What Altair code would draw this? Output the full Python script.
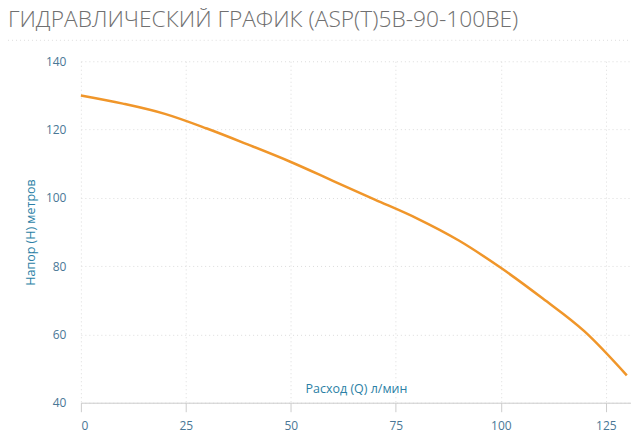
import altair as alt
import pandas as pd

flow = [0, 10, 20, 30, 40, 50, 60, 70, 80, 90, 100, 110, 120, 130]
head = [130, 127.6, 124.6, 120.3, 115.5, 110.5, 105, 99.5, 94, 87.5, 79.5, 70.5, 60.8, 48]

df = pd.DataFrame({"q": flow, "h": head})

W, H = 551, 342
label_color = "#4a7796"
title_color = "#2b7fa6"
grid_color = "#dcdcdc"

line = alt.Chart(df).mark_line(
    color="#f0962a", strokeWidth=2.5, interpolate="monotone"
).encode(
    x=alt.X(
        "q:Q",
        scale=alt.Scale(domain=[0, 131], nice=False, zero=False),
        axis=alt.Axis(
            values=[0, 25, 50, 75, 100, 125],
            title="Расход (Q) л/мин",
            titleFont="Open Sans",
            titleFontWeight="normal",
            titleFontSize=12.5,
            titleColor=title_color,
            titleBaseline="bottom",
            titleY=-7,
            titleX=W / 2,
            titleAlign="center",
            labelFont="Open Sans",
            labelFontSize=12,
            labelColor=label_color,
            labelPadding=9,
            tickSize=9,
            tickColor="#cccccc",
            domainColor="#cccccc",
            grid=True,
            gridColor=grid_color,
            gridDash=[1, 3],
        ),
    ),
    y=alt.Y(
        "h:Q",
        scale=alt.Scale(domain=[40, 140], nice=False, zero=False),
        axis=alt.Axis(
            values=[40, 60, 80, 100, 120, 140],
            title="Напор (H) метров",
            titleFont="Open Sans",
            titleFontWeight="normal",
            titleFontSize=12.5,
            titleColor=title_color,
            titleAngle=-90,
            titleAlign="center",
            titleBaseline="middle",
            titleX=-50,
            titleY=H / 2,
            labelFont="Open Sans",
            labelFontSize=12,
            labelColor=label_color,
            labelPadding=15,
            ticks=False,
            domain=False,
            grid=True,
            gridColor=grid_color,
            gridDash=[1, 3],
        ),
    ),
)

sep = alt.Chart(pd.DataFrame({"a": [0]})).mark_rule(
    color="#dddddd", strokeDash=[1, 3], strokeWidth=1
).encode(x=alt.value(-73), x2=alt.value(W + 2), y=alt.value(-21))

chart = alt.layer(sep, line).properties(
    width=W,
    height=H,
    autosize=alt.AutoSizeParams(type="none"),
    padding={"left": 73, "top": 53, "right": 0, "bottom": 40},
    title=alt.TitleParams(
        "ГИДРАВЛИЧЕСКИЙ ГРАФИК (ASP(T)5B-90-100BE)",
        anchor="start",
        frame="group",
        dx=-73,
        offset=8,
        font="Open Sans",
        fontSize=22.8,
        fontWeight=300,
        color="#707070",
    ),
).configure_view(stroke=None)

chart.save("out.html", embed_options={"renderer": "svg", "actions": False})
